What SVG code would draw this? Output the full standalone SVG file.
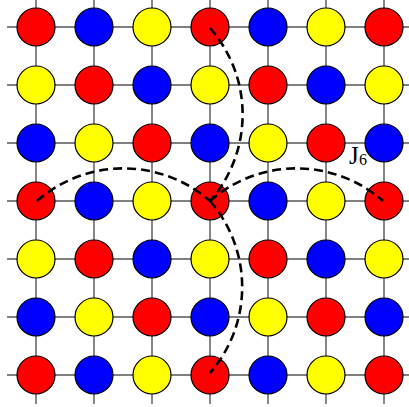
<svg xmlns="http://www.w3.org/2000/svg" width="409" height="407" viewBox="0 0 409 407">
<style>
.g{stroke:#555;stroke-width:1.4;fill:none}
.n{stroke:#000;stroke-width:1.2}
.R{fill:#ff0000}.B{fill:#0000ff}.Y{fill:#ffff00}
.d{fill:none;stroke:#000;stroke-width:2.6;stroke-dasharray:9,5}
.t{font-family:"Liberation Serif","DejaVu Serif",serif;fill:#000}
</style>
<rect width="409" height="407" fill="#fff"/>
<g id="grid">
<path class="g" d="M7 27H413M7 85H413M7 143H413M7 201H413M7 259H413M7 317H413M7 375H413M36 -2V404M94 -2V404M152 -2V404M210 -2V404M268 -2V404M326 -2V404M384 -2V404"/>
</g>
<g id="nodes">
<g id="n00"><circle class="n R" cx="36" cy="27" r="19"/></g>
<g id="n01"><circle class="n B" cx="94" cy="27" r="19"/></g>
<g id="n02"><circle class="n Y" cx="152" cy="27" r="19"/></g>
<g id="n03"><circle class="n R" cx="210" cy="27" r="19"/></g>
<g id="n04"><circle class="n B" cx="268" cy="27" r="19"/></g>
<g id="n05"><circle class="n Y" cx="326" cy="27" r="19"/></g>
<g id="n06"><circle class="n R" cx="384" cy="27" r="19"/></g>
<g id="n10"><circle class="n Y" cx="36" cy="85" r="19"/></g>
<g id="n11"><circle class="n R" cx="94" cy="85" r="19"/></g>
<g id="n12"><circle class="n B" cx="152" cy="85" r="19"/></g>
<g id="n13"><circle class="n Y" cx="210" cy="85" r="19"/></g>
<g id="n14"><circle class="n R" cx="268" cy="85" r="19"/></g>
<g id="n15"><circle class="n B" cx="326" cy="85" r="19"/></g>
<g id="n16"><circle class="n Y" cx="384" cy="85" r="19"/></g>
<g id="n20"><circle class="n B" cx="36" cy="143" r="19"/></g>
<g id="n21"><circle class="n Y" cx="94" cy="143" r="19"/></g>
<g id="n22"><circle class="n R" cx="152" cy="143" r="19"/></g>
<g id="n23"><circle class="n B" cx="210" cy="143" r="19"/></g>
<g id="n24"><circle class="n Y" cx="268" cy="143" r="19"/></g>
<g id="n25"><circle class="n R" cx="326" cy="143" r="19"/></g>
<g id="n26"><circle class="n B" cx="384" cy="143" r="19"/></g>
<g id="n30"><circle class="n R" cx="36" cy="201" r="19"/></g>
<g id="n31"><circle class="n B" cx="94" cy="201" r="19"/></g>
<g id="n32"><circle class="n Y" cx="152" cy="201" r="19"/></g>
<g id="n33"><circle class="n R" cx="210" cy="201" r="19"/></g>
<g id="n34"><circle class="n B" cx="268" cy="201" r="19"/></g>
<g id="n35"><circle class="n Y" cx="326" cy="201" r="19"/></g>
<g id="n36"><circle class="n R" cx="384" cy="201" r="19"/></g>
<g id="n40"><circle class="n Y" cx="36" cy="259" r="19"/></g>
<g id="n41"><circle class="n R" cx="94" cy="259" r="19"/></g>
<g id="n42"><circle class="n B" cx="152" cy="259" r="19"/></g>
<g id="n43"><circle class="n Y" cx="210" cy="259" r="19"/></g>
<g id="n44"><circle class="n R" cx="268" cy="259" r="19"/></g>
<g id="n45"><circle class="n B" cx="326" cy="259" r="19"/></g>
<g id="n46"><circle class="n Y" cx="384" cy="259" r="19"/></g>
<g id="n50"><circle class="n B" cx="36" cy="317" r="19"/></g>
<g id="n51"><circle class="n Y" cx="94" cy="317" r="19"/></g>
<g id="n52"><circle class="n R" cx="152" cy="317" r="19"/></g>
<g id="n53"><circle class="n B" cx="210" cy="317" r="19"/></g>
<g id="n54"><circle class="n Y" cx="268" cy="317" r="19"/></g>
<g id="n55"><circle class="n R" cx="326" cy="317" r="19"/></g>
<g id="n56"><circle class="n B" cx="384" cy="317" r="19"/></g>
<g id="n60"><circle class="n R" cx="36" cy="375" r="19"/></g>
<g id="n61"><circle class="n B" cx="94" cy="375" r="19"/></g>
<g id="n62"><circle class="n Y" cx="152" cy="375" r="19"/></g>
<g id="n63"><circle class="n R" cx="210" cy="375" r="19"/></g>
<g id="n64"><circle class="n B" cx="268" cy="375" r="19"/></g>
<g id="n65"><circle class="n Y" cx="326" cy="375" r="19"/></g>
<g id="n66"><circle class="n R" cx="384" cy="375" r="19"/></g>
</g>
<g id="connectors">
<path class="d" d="M37 201A131 131 0 0 1 210 201"/>
<path class="d" d="M210 201A131 131 0 0 1 383 201"/>
<path class="d" d="M210 28A131 131 0 0 1 210 201"/>
<path class="d" d="M210 201A131 131 0 0 1 210 373"/>
</g>
<g id="label">
<text class="t" x="349" y="164" font-size="25">J</text>
<text class="t" x="359" y="165" font-size="16">6</text>
</g>
</svg>
